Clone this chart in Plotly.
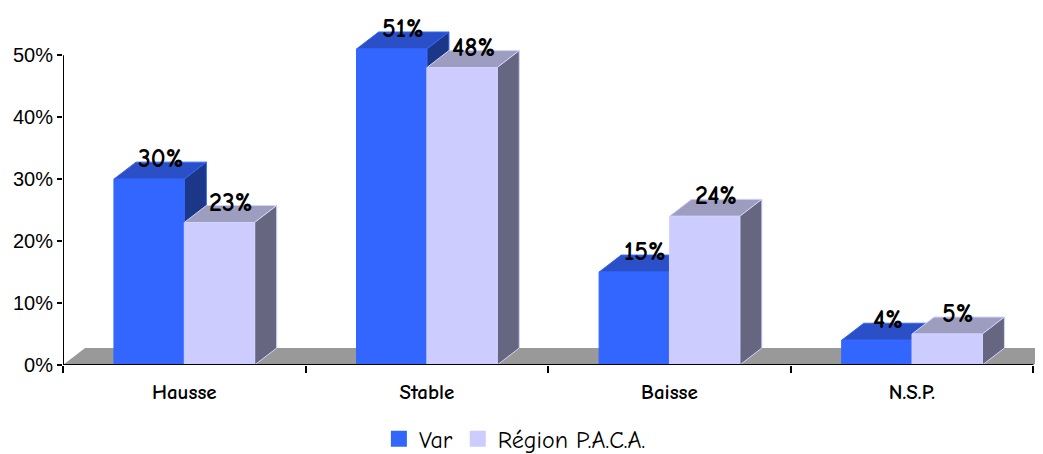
import plotly.graph_objects as go

# ---------------- data ----------------
categories = ["Hausse", "Stable", "Baisse", "N.S.P."]
var_values = [30, 51, 15, 4]
paca_values = [23, 48, 24, 5]
y_ticks = [0, 10, 20, 30, 40, 50]

# ---------------- style ----------------
COMIC = "Comic Sans MS, Comic Neue, Lato, sans-serif"
BAR_W = 0.29          # front face width (category units)
DX, DY = 0.091, 2.74  # 3d depth offset (x units, % units)

var_cols = dict(front="#3366ff", top="#2a4fc6", side="#1c3688", edge="#3366ff")
paca_cols = dict(front="#ccccff", top="#9d9dbf", side="#666680", edge="#d2d2ff")


def path(pts):
    return "M " + " L ".join(f"{x},{y}" for x, y in pts) + " Z"


def faces(center, v, cols):
    left, right = center - BAR_W / 2, center + BAR_W / 2
    top = [(left, v), (left + DX, v + DY), (right + DX, v + DY), (right, v)]
    side = [(right, 0), (right, v), (right + DX, v + DY), (right + DX, DY)]
    out = []
    for pts, fill in ((top, cols["top"]), (side, cols["side"])):
        out.append(dict(type="path", path=path(pts), xref="x", yref="y",
                        fillcolor=fill, line=dict(color=cols["edge"], width=1),
                        layer="below"))
    return out


xs = list(range(len(categories)))
x_var = [x - BAR_W / 2 for x in xs]
x_paca = [x + BAR_W / 2 for x in xs]

fig = go.Figure()
fig.add_trace(go.Bar(x=x_var, y=var_values, width=BAR_W, name="Var", showlegend=False,
                     marker=dict(color=var_cols["front"],
                                 line=dict(color=var_cols["edge"], width=1))))
fig.add_trace(go.Bar(x=x_paca, y=paca_values, width=BAR_W, name="Région P.A.C.A.",
                     showlegend=False,
                     marker=dict(color=paca_cols["front"],
                                 line=dict(color=paca_cols["edge"], width=1))))
# legend entries with bigger square swatches
for name, cols in (("Var", var_cols), ("Région P.A.C.A.", paca_cols)):
    fig.add_trace(go.Scatter(x=[None], y=[None], mode="markers", name=name,
                             marker=dict(symbol="square", size=20, color=cols["front"])))

# floor
x0, x1 = -0.5, len(categories) - 0.5
shapes = [dict(type="path", xref="x", yref="y", layer="below",
               path=path([(x0, 0), (x0 + DX, DY), (x1 + DX, DY), (x1, 0)]),
               fillcolor="#999999", line=dict(width=0))]
for i in xs:
    shapes += faces(x_var[i], var_values[i], var_cols)
    shapes += faces(x_paca[i], paca_values[i], paca_cols)

# axis lines
shapes.append(dict(type="line", xref="x", yref="y", x0=x0, x1=x1, y0=0, y1=0,
                   line=dict(color="black", width=2)))
shapes.append(dict(type="line", xref="x", yref="y", x0=x0, x1=x0, y0=0, y1=y_ticks[-1],
                   line=dict(color="black", width=2)))

annotations = []
for xv, vals in ((x_var, var_values), (x_paca, paca_values)):
    for x, v in zip(xv, vals):
        annotations.append(dict(x=x + DX / 2, y=v + DY, text=f"<b>{v}%</b>",
                                showarrow=False, yshift=3,
                                font=dict(family=COMIC, size=26, color="black")))

fig.update_layout(
    width=1043, height=454,
    margin=dict(l=55, r=8, t=10, b=97),
    plot_bgcolor="white", paper_bgcolor="white",
    barmode="overlay", showlegend=True,
    shapes=shapes, annotations=annotations,
    legend=dict(orientation="h", xref="container", yref="container",
                x=0.486, xanchor="center", y=0.1, yanchor="top",
                font=dict(family=COMIC, size=24, color="black"),
                itemwidth=30, traceorder="normal",
                tracegroupgap=0, bgcolor="rgba(0,0,0,0)"),
    xaxis=dict(range=[x0, x1 + 0.04], tickvals=xs, automargin=False,
               ticktext=[f"<b>{c}</b>" for c in categories],
               ticks="", showgrid=False, zeroline=False, showline=False,
               ticklabelstandoff=12,
               tickfont=dict(family=COMIC, size=21, color="black"),
               minor=dict(tickvals=[x0 + k for k in range(len(categories) + 1)],
                          ticks="outside", ticklen=7, tickcolor="black", tickwidth=2)),
    yaxis=dict(range=[0, 56], tickvals=y_ticks, automargin=False,
               ticktext=[f"{t}%" for t in y_ticks],
               ticks="outside", ticklen=5, tickwidth=2, tickcolor="black",
               showgrid=False, zeroline=False, showline=False,
               tickfont=dict(family="Liberation Sans, Arial", size=20, color="black")),
)

fig.write_html("out.html")
